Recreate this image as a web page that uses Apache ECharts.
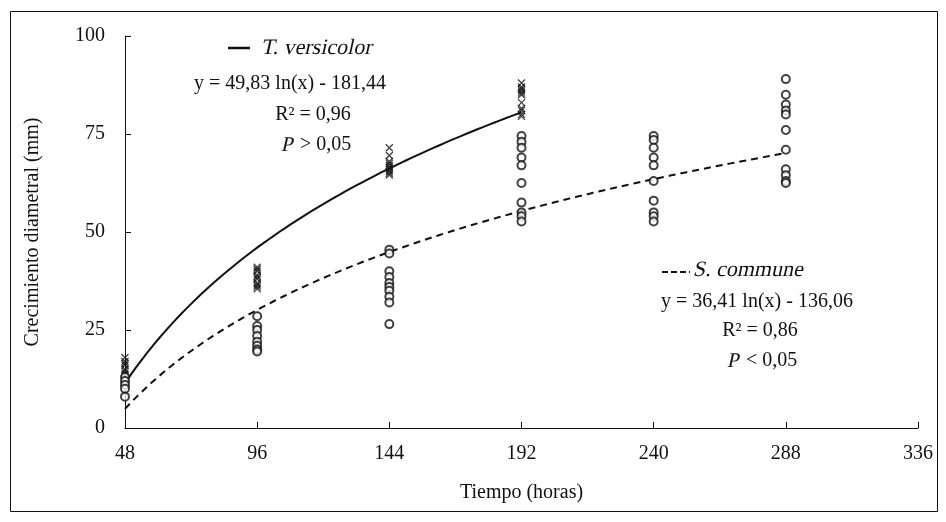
<!DOCTYPE html>
<html>
<head>
<meta charset="utf-8">
<script src="https://cdn.jsdelivr.net/npm/echarts@6/dist/echarts.min.js"></script>
<style>
  html, body { margin: 0; padding: 0; background: #fff; }
  #chart { width: 946px; height: 522px; }
</style>
</head>
<body>
<div id="chart"></div>
<script>
// horas de medición
var hours = [48, 96, 144, 192, 240, 288];

// T. versicolor (cruces), valores por hora
var tvObs = {
    48: [18, 17, 16.5, 16, 15, 14.5, 14, 13.5, 13, 12.5],
    96: [41, 40.5, 40, 39, 38.5, 38, 37, 36.5, 36, 35.5],
    144: [71.5, 69.5, 68, 67.5, 67, 66.5, 66, 65.5, 65, 64.5],
    192: [88, 87, 86.5, 86, 85.5, 85, 83, 81.5, 81, 80, 79.5]
};

// S. commune (círculos), valores por hora
var scObs = {
    48: [13, 12, 11, 10, 8],
    96: [28.5, 26, 25, 23.5, 22, 21, 20, 19.5],
    144: [45.5, 44.5, 40, 38.5, 37, 36, 35, 33.5, 32, 26.5],
    192: [74.5, 73, 71.5, 69, 67, 62.5, 57.5, 55, 54, 52.7],
    240: [74.5, 73.5, 71.5, 69, 67, 63, 58, 55, 54, 52.7],
    288: [89, 85, 82.5, 81, 80, 76, 71, 66, 64.5, 63, 62.5]
};

// ajustes logarítmicos impresos en la figura: y = a ln(x) + b
var tvFit = [49.83, -181.44];
var scFit = [36.41, -136.06];
var tvRange = [48, 192];
var scRange = [48, 288];

var xTicks = [48, 96, 144, 192, 240, 288, 336];
var yTicks = [0, 25, 50, 75, 100];

function toPairs(obs) {
    var out = [];
    Object.keys(obs).forEach(function (h) {
        obs[h].forEach(function (v) { out.push([Number(h), v]); });
    });
    return out;
}

function fitCurve(fit, range) {
    var pts = [];
    for (var x = range[0]; x <= range[1]; x += 2) {
        pts.push([x, fit[0] * Math.log(x) + fit[1]]);
    }
    return pts;
}

var ink = '#111';
var serif = '"Liberation Serif", "DejaVu Serif", serif';

function label(x, y, txt, opts) {
    opts = opts || {};
    var el = {
        type: 'text',
        x: x, y: y,
        style: {
            text: txt,
            fontFamily: serif,
            fontSize: opts.size || 20,
            fill: ink,
            textAlign: opts.align || 'center',
            textVerticalAlign: 'middle'
        }
    };
    // cursiva simulada: la serif del sandbox no trae variante itálica
    if (opts.slant) {
        el.skewX = -0.22;
    }
    return el;
}

var chart = echarts.init(document.getElementById('chart'));

var option = {
    animation: false,
    backgroundColor: '#fff',
    grid: { left: 125, right: 28, top: 36, bottom: 94 },
    xAxis: {
        type: 'value',
        min: xTicks[0],
        max: xTicks[xTicks.length - 1],
        interval: 48,
        name: 'Tiempo (horas)',
        nameLocation: 'middle',
        nameGap: 55,
        nameTextStyle: { color: ink, fontFamily: serif, fontSize: 20 },
        axisLine: { lineStyle: { color: ink, width: 1 } },
        axisTick: { inside: true, length: 6, lineStyle: { color: ink } },
        axisLabel: { color: ink, fontFamily: serif, fontSize: 20, margin: 16 },
        splitLine: { show: false }
    },
    yAxis: {
        type: 'value',
        min: yTicks[0],
        max: yTicks[yTicks.length - 1],
        interval: 25,
        name: 'Crecimiento diametral (mm)',
        nameLocation: 'middle',
        nameGap: 82,
        nameTextStyle: { color: ink, fontFamily: serif, fontSize: 20 },
        axisLine: { show: true, lineStyle: { color: ink, width: 1 } },
        axisTick: { show: true, inside: true, length: 6, lineStyle: { color: ink } },
        axisLabel: { color: ink, fontFamily: serif, fontSize: 20, margin: 20 },
        splitLine: { show: false }
    },
    series: [
        {
            name: 'T. versicolor obs',
            type: 'scatter',
            symbol: 'path://M0,0L10,10M10,0L0,10',
            symbolSize: 7,
            itemStyle: { color: 'none', borderColor: ink, borderWidth: 1.3 },
            data: toPairs(tvObs),
            z: 3
        },
        {
            name: 'S. commune obs',
            type: 'scatter',
            symbol: 'emptyCircle',
            symbolSize: 8,
            itemStyle: { color: ink, borderColor: ink, borderWidth: 1 },
            data: toPairs(scObs),
            z: 3
        },
        {
            name: 'T. versicolor',
            type: 'line',
            showSymbol: false,
            lineStyle: { color: ink, width: 2 },
            data: fitCurve(tvFit, tvRange),
            z: 2
        },
        {
            name: 'S. commune',
            type: 'line',
            showSymbol: false,
            lineStyle: { color: ink, width: 2, type: [7, 5] },
            data: fitCurve(scFit, scRange),
            z: 2
        }
    ],
    graphic: [
        {
            type: 'rect',
            shape: { x: 10.5, y: 11.5, width: 927, height: 500 },
            style: { fill: 'none', stroke: ink, lineWidth: 1 },
            silent: true
        },
        {
            type: 'line',
            shape: { x1: 228, y1: 48, x2: 250, y2: 48 },
            style: { stroke: ink, lineWidth: 2.5 }
        },
        label(262, 48, 'T. versicolor', { slant: true, size: 22, align: 'left' }),
        label(290, 84, 'y = 49,83 ln(x) - 181,44'),
        label(313, 115, 'R² = 0,96'),
        label(282, 145, 'P', { slant: true, size: 21, align: 'left' }),
        label(300, 145, '> 0,05', { align: 'left' }),
        {
            type: 'line',
            shape: { x1: 662, y1: 272, x2: 690, y2: 272 },
            style: { stroke: ink, lineWidth: 2, lineDash: [6, 3] }
        },
        label(694, 270, 'S. commune', { slant: true, size: 22, align: 'left' }),
        label(757, 302, 'y = 36,41 ln(x) - 136,06'),
        label(760, 331, 'R² = 0,86'),
        label(728, 361, 'P', { slant: true, size: 21, align: 'left' }),
        label(746, 361, '< 0,05', { align: 'left' })
    ]
};

chart.setOption(option);
</script>
</body>
</html>
